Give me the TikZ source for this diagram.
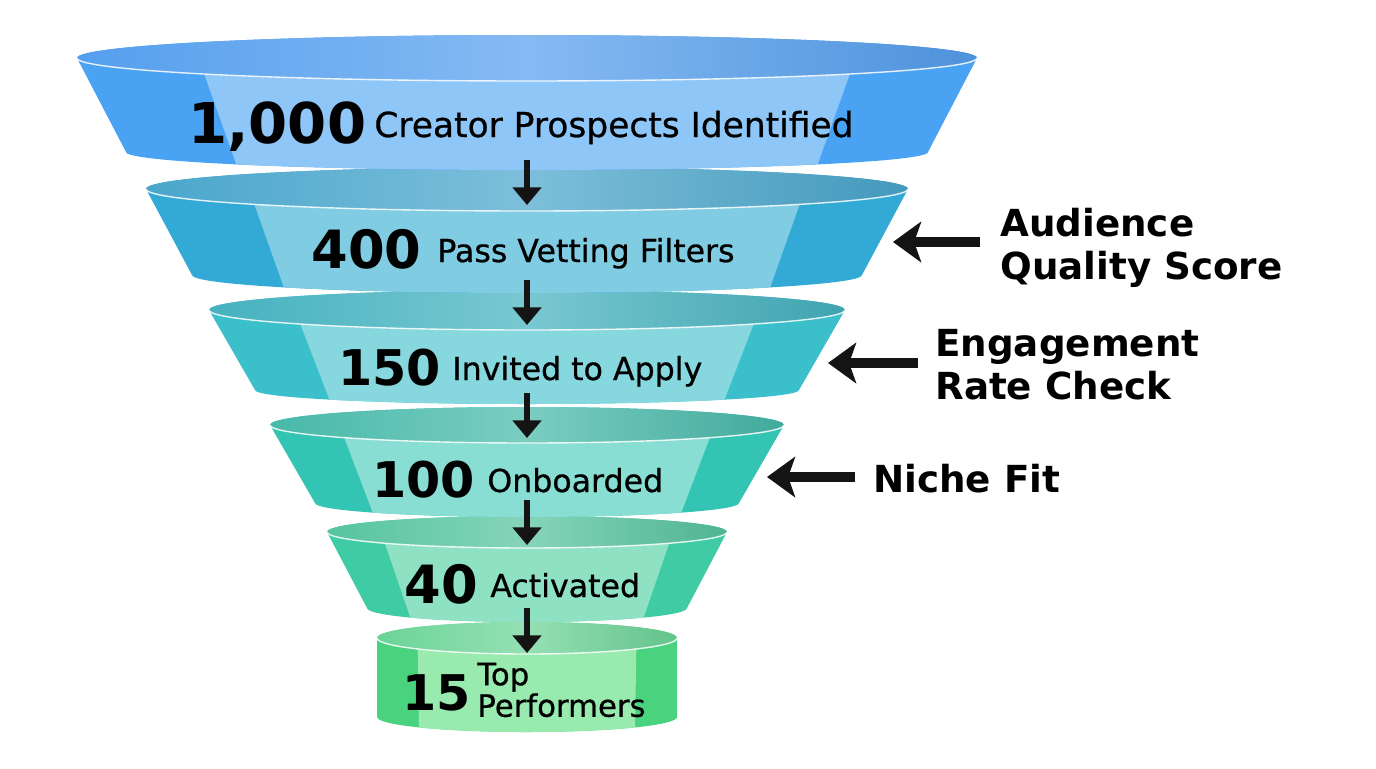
\documentclass[tikz,border=0pt]{standalone}
\usepackage{fontspec}
\setmainfont{DejaVu Sans}
\newfontfamily\medfont{DejaVu Sans}[FakeBold=0.7]
\usepackage{xcolor}
\usetikzlibrary{arrows.meta, positioning, calc}

\definecolor{sideA}{HTML}{4AA2F3}
\definecolor{bandA}{HTML}{8EC6F8}
\definecolor{topA}{HTML}{559FEE}
\definecolor{sideB}{HTML}{33AAD6}
\definecolor{bandB}{HTML}{80CCE3}
\definecolor{topB}{HTML}{4AA6CC}
\definecolor{sideC}{HTML}{3BBFCB}
\definecolor{bandC}{HTML}{86D7DE}
\definecolor{topC}{HTML}{45B2BF}
\definecolor{sideD}{HTML}{34C4B3}
\definecolor{bandD}{HTML}{88DED3}
\definecolor{topD}{HTML}{47B9A9}
\definecolor{sideE}{HTML}{3FCBA3}
\definecolor{bandE}{HTML}{8EE2C3}
\definecolor{topE}{HTML}{56C4A0}
\definecolor{sideF}{HTML}{4AD37F}
\definecolor{bandF}{HTML}{98EAAE}
\definecolor{topF}{HTML}{6CD497}

% one funnel ring: ytop, rxtop, rytop, ybot, rxbot, rybot, side, band, opening
\newcommand{\funnelstage}[9]{%
  \fill[#7] ({527-#2},{-#1}) arc[start angle=180, end angle=0, x radius=#2, y radius=#3]
    -- ({527+#5},{-#4}) arc[start angle=0, end angle=-180, x radius=#5, y radius=#6] -- cycle;
  \begin{scope}
    \clip ({527-#2},{-#1}) arc[start angle=180, end angle=0, x radius=#2, y radius=#3]
      -- ({527+#5},{-#4}) arc[start angle=0, end angle=-180, x radius=#5, y radius=#6] -- cycle;
    \fill[#8] ({527-0.73*#2},{-#1}) -- ({527+0.73*#2},{-#1})
      -- ({527+0.72*#5},{-#4-#6}) -- ({527-0.72*#5},{-#4-#6}) -- cycle;
  \end{scope}
  \shade[left color=#9, right color=#9!92!black, middle color=#9!72!white]
    (527,{-#1}) ellipse[x radius=#2, y radius=#3];
  \draw[white, line width=0.8pt, opacity=0.85] ({527-#2},{-#1})
    arc[start angle=180, end angle=360, x radius=#2, y radius=#3];
}

\begin{document}
\begin{tikzpicture}[
        x=0.02cm, y=0.02cm,
        num/.style={font=\bfseries\fontsize{30}{31}\selectfont, inner sep=0pt, anchor=base west},
        lbl/.style={font=\medfont\fontsize{18}{20}\selectfont, inner sep=0pt, anchor=base west},
        side/.style={font=\bfseries\fontsize{21.2}{24.5}\selectfont, align=left, inner sep=0pt, anchor=west},
        flow/.style={-{Triangle[width=16pt, length=10pt]}, line width=3.6pt, black!92},
        pointer/.style={-{Stealth[width=23pt, length=16pt, inset=4pt]}, line width=5.5pt, black!92}
    ]
        \useasboundingbox (0,0) rectangle (1376,-768);
        \fill[white] (0,0) rectangle (1376,-768);

        % ================= FUNNEL =================

        % drawn from the bottom up, so upper rings overlap lower ones
        \funnelstage{638}{150}{16}{717}{150}{15}{sideF}{bandF}{topF}
        \funnelstage{532}{200}{16}{608}{160}{14}{sideE}{bandE}{topE}
        \funnelstage{425}{257}{18}{503}{212}{14}{sideD}{bandD}{topD}
        \funnelstage{310}{318}{20}{390}{272}{14}{sideC}{bandC}{topC}
        \funnelstage{189}{381}{22}{275}{335}{18}{sideB}{bandB}{topB}
        \funnelstage{58}{450}{23}{152}{401}{18}{sideA}{bandA}{topA}

        % ================= STAGE TEXT =================

        \node[num, font=\bfseries\fontsize{32}{33}\selectfont] (n1) at (188,-143) {1,000};
        \node[lbl, font=\medfont\fontsize{19.6}{21}\selectfont] (t1) at (374,-137) {Creator Prospects Identified};

        \node[num] (n2) at (311,-268) {400};
        \node[lbl] (t2) at (437,-262) {Pass Vetting Filters};

        \node[num, font=\bfseries\fontsize{28}{29}\selectfont] (n3) at (338,-385) {150};
        \node[lbl] (t3) at (452,-380) {Invited to Apply};

        \node[num, font=\bfseries\fontsize{28}{29}\selectfont] (n4) at (372,-497) {100};
        \node[lbl] (t4) at (487,-492) {Onboarded};

        \node[num] (n5) at (404,-603) {40};
        \node[lbl] (t5) at (490,-597) {Activated};

        \node[num, font=\bfseries\fontsize{28}{29}\selectfont] (n6) at (402,-710) {15};
        \node[lbl, anchor=west, align=left, font=\medfont\fontsize{17.5}{13}\selectfont] (t6) at (477,-690) {Top\\Performers};

        % ================= FLOW ARROWS =================

        \coordinate (a1) at (527,-160);  \coordinate (b1) at (527,-205);
        \coordinate (a2) at (527,-280);  \coordinate (b2) at (527,-325);
        \coordinate (a3) at (527,-393);  \coordinate (b3) at (527,-438);
        \coordinate (a4) at (527,-500);  \coordinate (b4) at (527,-545);
        \coordinate (a5) at (527,-608);  \coordinate (b5) at (527,-653);

        \draw[flow] (a1) -- (b1);
        \draw[flow] (a2) -- (b2);
        \draw[flow] (a3) -- (b3);
        \draw[flow] (a4) -- (b4);
        \draw[flow] (a5) -- (b5);

        % ================= FILTERS =================

        \node[side] (aud) at (1000,-248) {Audience\\Quality Score};
        \node[side] (eng) at (935,-365) {Engagement\\Rate Check};
        \node[side, anchor=base west] (niche) at (873,-492) {Niche Fit};

        \coordinate (p1) at (980,-242);  \coordinate (q1) at (893,-242);
        \coordinate (p2) at (918,-363);  \coordinate (q2) at (828,-363);
        \coordinate (p3) at (855,-477);  \coordinate (q3) at (767,-477);

        \draw[pointer] (p1) -- (q1);
        \draw[pointer] (p2) -- (q2);
        \draw[pointer] (p3) -- (q3);

\end{tikzpicture}
\end{document}
